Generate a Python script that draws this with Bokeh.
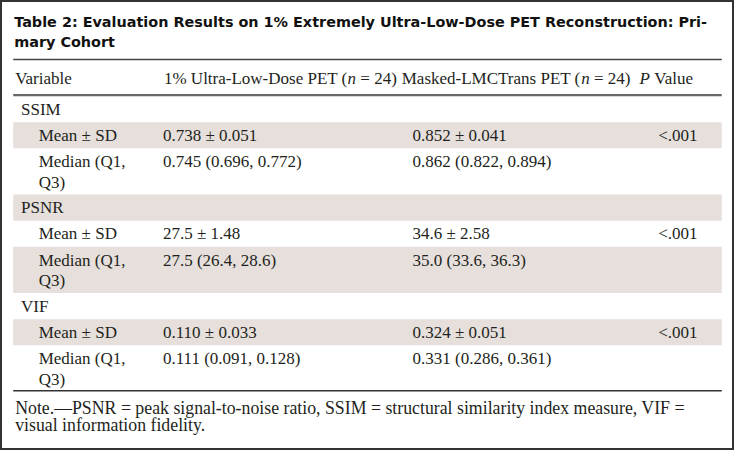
from bokeh.plotting import figure
from bokeh.models import Range1d
from bokeh.core.properties import value
from bokeh.embed import file_html
from bokeh.resources import INLINE

# ---------------- data ----------------
title_lines = ["Table 2: Evaluation Results on 1% Extremely Ultra-Low-Dose PET Reconstruction: Pri-",
               "mary Cohort"]
col_variable = "Variable"
col_ultra_low = "1% Ultra-Low-Dose PET"
col_lmctrans = "Masked-LMCTrans PET"
n_ultra_low = 24
n_lmctrans = 24
metrics = ["SSIM", "PSNR", "VIF"]
mean_labels = ["Mean ± SD", "Mean ± SD", "Mean ±  SD"]
median_labels = ["Median (Q1,", "Q3)"]
ultra_low_mean_sd = ["0.738 ± 0.051", "27.5 ± 1.48", "0.110 ± 0.033"]
ultra_low_median = ["0.745 (0.696, 0.772)", "27.5 (26.4, 28.6)", "0.111 (0.091, 0.128)"]
lmctrans_mean_sd = ["0.852 ±  0.041", "34.6 ±  2.58", "0.324 ± 0.051"]
lmctrans_median = ["0.862 (0.822, 0.894)", "35.0 (33.6, 36.3)", "0.331 (0.286, 0.361)"]
p_values = ["<.001", "<.001", "<.001"]
note_lines = ["Note.\u2014PSNR = peak signal-to-noise ratio, SSIM = structural similarity index measure, VIF =",
              "visual information fidelity."]

# ---------------- style ----------------
SERIF = "Liberation Serif"
SANS = "DejaVu Sans"
FS = 17
TXT = "#231f20"
SHADE = "#e6dfdc"
FW, FH = 734, 450
RW, RH = 750, 466          # layout is expressed in these units
SX = RW / FW               # data units per screen pixel (x)

# Times/Liberation Serif advance widths (per 1000 em)
TIMES = {" ": 250, "(": 333, ")": 333, "%": 833, "-": 333, "1": 500, "2": 500, "4": 500,
         "=": 564, "D": 722, "E": 611, "L": 611, "M": 889, "P": 556, "T": 611, "U": 722,
         "C": 667, "a": 444, "d": 500, "e": 444, "k": 500, "l": 278, "n": 500, "o": 500,
         "r": 333, "s": 389, "t": 278, "w": 722}


def tw(s, size=FS):
    return sum(TIMES.get(c, 500) for c in s) * size / 1000.0 * SX


p = figure(width=FW, height=FH, x_range=Range1d(0, RW), y_range=Range1d(RH, 0),
           output_backend="svg", toolbar_location=None, min_border=0,
           x_axis_location=None, y_axis_location=None)
p.grid.visible = False
p.outline_line_color = "#333333"
p.outline_line_width = 3
p.background_fill_color = "white"
p.border_fill_color = "white"


def txt(x, y, s, size=FS, style="normal", font=SERIF, color=TXT, align="left"):
    p.text(x=[x], y=[y], text=[s], text_font=value(font), text_font_size=f"{size}px",
           text_font_style=style, text_baseline="middle", text_align=align, text_color=color)


L, R = 13, 737

# title
txt(14, 22, title_lines[0], size=14.4, style="bold", font=SANS, color="#111111")
txt(14, 43, title_lines[1], size=14.4, style="bold", font=SANS, color="#111111")
p.line(x=[L, R], y=[61, 61], line_color="#444444", line_width=1.5)

# header
hy = 81
txt(15, hy, col_variable)
x2 = 167
a = col_ultra_low + " ("
txt(x2, hy, a)
txt(x2 + tw(a), hy, "n", style="italic")
txt(x2 + tw(a) + tw("n") + tw(" "), hy, f"= {n_ultra_low})")
x3 = 410
b = col_lmctrans + " ("
txt(x3, hy, b)
txt(x3 + tw(b), hy, "n", style="italic")
txt(x3 + tw(b) + tw("n") + tw(" "), hy, f"= {n_lmctrans})")
txt(653, hy, "P", style="italic")
txt(653 + tw("P") + 1 + tw(" "), hy, "Value")
p.line(x=[L, R], y=[98, 98], line_color="#6a6a6a", line_width=2.2)

# body rows
H1, H2 = 27, 48
y = 99
row_i = 0
for k, m in enumerate(metrics):
    # group row
    if row_i % 2 == 1:
        p.quad(left=[L], right=[R], top=[y], bottom=[y + H1], fill_color=SHADE, line_color=None)
    txt(21, y + H1 / 2, m)
    y += H1
    row_i += 1
    # mean row
    if row_i % 2 == 1:
        p.quad(left=[L], right=[R], top=[y], bottom=[y + H1], fill_color=SHADE, line_color=None)
    cy = y + H1 / 2
    txt(39, cy, mean_labels[k])
    txt(166, cy, ultra_low_mean_sd[k])
    txt(421, cy, lmctrans_mean_sd[k])
    txt(672, cy, p_values[k])
    y += H1
    row_i += 1
    # median row
    if row_i % 2 == 1:
        p.quad(left=[L], right=[R], top=[y], bottom=[y + H2], fill_color=SHADE, line_color=None)
    cy = y + 14
    txt(39, cy, median_labels[0])
    txt(39, cy + 21, median_labels[1])
    txt(166, cy, ultra_low_median[k])
    txt(421, cy, lmctrans_median[k])
    y += H2
    row_i += 1

p.line(x=[L, R], y=[404, 404], line_color="#333333", line_width=1.5)

txt(15, 422, note_lines[0], size=17.8)
txt(15, 440, note_lines[1], size=17.8)

open("out.html", "w").write(file_html(p, INLINE))
